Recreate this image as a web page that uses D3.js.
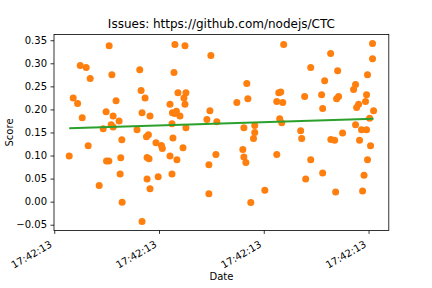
<!DOCTYPE html>
<html>
<head>
<meta charset="utf-8">
<script src="https://cdn.jsdelivr.net/npm/d3@7"></script>
<style>
  body { margin: 0; background: #fff; }
  text { font-family: "DejaVu Sans", sans-serif; fill: #000; }
</style>
</head>
<body>
<svg id="chart" width="432" height="288"></svg>
<script>
// time offsets (in tick units, every tick shows the same second)
const xValues = [
  0.524, 0.248, 0.305, 0.550, 0.343, 0.816, 0.829, 0.867, 0.181, 0.223,
  0.590, 0.495, 0.562, 0.838, 0.914, 0.267, 0.619, 0.543, 0.562, 0.467,
  0.790, 0.899, 0.880, 0.645, 0.971, 1.023, 1.032, 0.324, 0.143, 0.499,
  0.521, 0.635, 0.886, 0.905, 0.629, 0.886, 0.992, 0.429, 0.914, 0.648,
  0.838, 1.152, 1.248, 1.495, 1.143, 1.181, 1.257, 1.238, 1.105, 1.248,
  1.128, 1.166, 1.200, 1.150, 1.486, 1.457, 1.552, 1.124, 1.257, 1.838,
  1.743, 1.848, 1.810, 1.914, 1.914, 1.902, 1.133, 1.229, 1.105, 1.171,
  1.124, 1.543, 1.476, 1.476, 1.800, 1.810, 1.829, 1.876, 2.190, 3.038,
  2.638, 3.038, 2.448, 2.705, 2.990, 2.581, 2.876, 2.857, 2.162, 2.143,
  2.981, 2.552, 2.390, 2.714, 2.695, 2.124, 2.181, 2.971, 2.905, 2.886,
  2.562, 3.048, 2.152, 2.171, 3.010, 2.876, 2.933, 2.981, 2.352, 2.752,
  2.362, 2.640, 2.676, 2.914, 3.019, 2.124, 2.448, 2.990, 2.562, 2.957,
  2.400, 2.010, 2.686, 2.943
];
const scores = [
  0.338, 0.295, 0.291, 0.275, 0.267, 0.286, 0.241, 0.225, 0.225, 0.213,
  0.219, 0.195, 0.186, 0.193, 0.186, 0.182, 0.175, 0.167, 0.162, 0.158,
  0.156, 0.145, 0.141, 0.134, 0.128, 0.122, 0.115, 0.121, 0.099, 0.088,
  0.088, 0.095, 0.096, 0.093, 0.060, 0.049, 0.054, 0.035, 0.028, -0.001,
  -0.043, 0.341, 0.338, 0.317, 0.280, 0.236, 0.236, 0.225, 0.211, 0.211,
  0.193, 0.196, 0.186, 0.191, 0.197, 0.178, 0.173, 0.169, 0.160, 0.256,
  0.215, 0.223, 0.160, 0.165, 0.150, 0.137, 0.138, 0.117, 0.099, 0.091,
  0.060, 0.102, 0.080, 0.017, 0.113, 0.097, 0.085, -0.002, 0.341, 0.343,
  0.321, 0.310, 0.291, 0.284, 0.275, 0.262, 0.254, 0.243, 0.238, 0.236,
  0.232, 0.232, 0.228, 0.228, 0.223, 0.217, 0.215, 0.217, 0.211, 0.204,
  0.202, 0.197, 0.180, 0.171, 0.181, 0.167, 0.156, 0.156, 0.154, 0.149,
  0.137, 0.135, 0.133, 0.133, 0.121, 0.102, 0.091, 0.091, 0.062, 0.057,
  0.049, 0.025, 0.021, 0.023
];
// trend line endpoints
const trendX = [0.143, 3.048];
const trendY = [0.159, 0.180];

const xTicks = [0, 1, 2, 3];
const xTickLabels = ["17:42:13", "17:42:13", "17:42:13", "17:42:13"];
const yTicks = [-0.05, 0, 0.05, 0.1, 0.15, 0.2, 0.25, 0.3, 0.35];

const width = 432, height = 288;
const margin = {top: 34.56, right: 43.2, bottom: 57.6, left: 54};
const svg = d3.select("#chart");

const points = xValues.map((x, i) => ({x: x, y: scores[i]}));

function padded(ext) {
  const r = ext[1] - ext[0];
  return [ext[0] - r * 0.05, ext[1] + r * 0.05];
}

const xScale = d3.scaleLinear()
  .domain(padded(d3.extent(xValues)))
  .range([margin.left, width - margin.right]);

const yScale = d3.scaleLinear()
  .domain(padded(d3.extent(scores)))
  .range([height - margin.bottom, margin.top]);

// points
svg.append("g")
  .selectAll("circle")
  .data(points)
  .enter().append("circle")
  .attr("cx", d => xScale(d.x))
  .attr("cy", d => yScale(d.y))
  .attr("r", 3.5)
  .attr("fill", "#ff7f0e");

// trend line
svg.append("path")
  .datum(trendX.map((x, i) => [x, trendY[i]]))
  .attr("fill", "none")
  .attr("stroke", "#2ca02c")
  .attr("stroke-width", 2)
  .attr("d", d3.line().x(d => xScale(d[0])).y(d => yScale(d[1])));

// frame
svg.append("rect")
  .attr("x", margin.left)
  .attr("y", margin.top)
  .attr("width", width - margin.left - margin.right)
  .attr("height", height - margin.top - margin.bottom)
  .attr("fill", "none")
  .attr("stroke", "#000")
  .attr("stroke-width", 0.8);

// x axis
const xAxis = svg.append("g")
  .attr("transform", `translate(0, ${height - margin.bottom})`)
  .call(d3.axisBottom(xScale)
    .tickValues(xTicks)
    .tickSize(3.5)
    .tickPadding(3.5)
    .tickFormat((d, i) => xTickLabels[i]));
xAxis.select(".domain").remove();
xAxis.selectAll("line").attr("stroke-width", 0.8);
xAxis.selectAll("text")
  .style("font-family", "DejaVu Sans")
  .style("font-size", "10px")
  .attr("text-anchor", "end")
  .attr("dy", null)
  .attr("y", 0)
  .attr("transform", "translate(-2, 16) rotate(-30)");

// y axis
const yAxis = svg.append("g")
  .attr("transform", `translate(${margin.left}, 0)`)
  .call(d3.axisLeft(yScale)
    .tickValues(yTicks)
    .tickSize(3.5)
    .tickPadding(3.5)
    .tickFormat(d3.format(".2f")));
yAxis.select(".domain").remove();
yAxis.selectAll("line").attr("stroke-width", 0.8);
yAxis.selectAll("text")
  .style("font-family", "DejaVu Sans")
  .style("font-size", "10px");

// title and labels
const cx = (margin.left + width - margin.right) / 2;
svg.append("text")
  .attr("x", cx)
  .attr("y", 28)
  .attr("text-anchor", "middle")
  .style("font-size", "12px")
  .text("Issues: https://github.com/nodejs/CTC");

svg.append("text")
  .attr("x", cx)
  .attr("y", 280)
  .attr("text-anchor", "middle")
  .style("font-size", "10px")
  .text("Date");

svg.append("text")
  .attr("transform", `translate(13, ${(margin.top + height - margin.bottom) / 2}) rotate(-90)`)
  .attr("text-anchor", "middle")
  .style("font-size", "10px")
  .text("Score");
</script>
</body>
</html>
